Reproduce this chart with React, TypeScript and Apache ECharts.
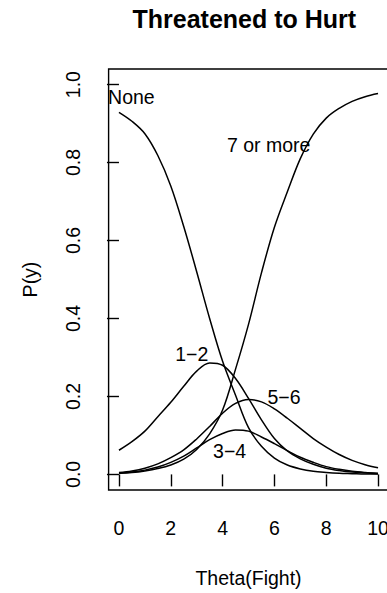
import { useEffect, useRef } from "react";
import * as echarts from "echarts";

// Category response curves for the item "Threatened to Hurt"
const theta = [0, 0.5, 1, 1.5, 2, 2.5, 3, 3.5, 4, 4.5, 5, 5.5, 6, 6.5, 7, 7.5, 8, 8.5, 9, 9.5, 10];

const pNone = [0.929, 0.906, 0.874, 0.818, 0.740, 0.636, 0.520, 0.400, 0.290, 0.203, 0.120, 0.072, 0.042, 0.024, 0.014, 0.008, 0.005, 0.003, 0.002, 0.001, 0.001];
const p1to2 = [0.062, 0.084, 0.111, 0.148, 0.185, 0.226, 0.265, 0.286, 0.280, 0.246, 0.195, 0.140, 0.092, 0.060, 0.040, 0.026, 0.016, 0.010, 0.006, 0.004, 0.002];
const p3to4 = [0.003, 0.006, 0.011, 0.019, 0.031, 0.047, 0.068, 0.089, 0.105, 0.114, 0.111, 0.096, 0.079, 0.061, 0.044, 0.031, 0.020, 0.013, 0.008, 0.005, 0.003];
const p5to6 = [0.005, 0.009, 0.016, 0.027, 0.043, 0.063, 0.091, 0.123, 0.157, 0.182, 0.192, 0.186, 0.168, 0.144, 0.118, 0.092, 0.070, 0.051, 0.036, 0.025, 0.017];
const p7plus = [0.003, 0.005, 0.009, 0.015, 0.024, 0.039, 0.064, 0.104, 0.165, 0.270, 0.385, 0.517, 0.634, 0.725, 0.810, 0.873, 0.914, 0.939, 0.957, 0.969, 0.977];

const curves = [pNone, p1to2, p3to4, p5to6, p7plus];

// Text labels placed next to each curve
const curveLabels = ["None", "1\u22122", "3\u22124", "5\u22126", "7 or more"];
const labelTheta = [0.48, 2.81, 4.27, 6.37, 5.78];
const labelP = [0.968, 0.31, 0.06, 0.199, 0.846];

const xTicks = [0, 2, 4, 6, 8, 10];
const yTicks = [0, 0.2, 0.4, 0.6, 0.8, 1.0];

const FONT = "'Liberation Sans', Arial, Helvetica, sans-serif";

export default function App() {
  const ref = useRef<HTMLDivElement>(null);

  useEffect(() => {
    if (!ref.current) return;
    const chart = echarts.init(ref.current, undefined, { renderer: "svg" });

    const lineSeries = curves.map((vals, i) => ({
      type: "line",
      name: curveLabels[i],
      data: theta.map((t, j) => [t, vals[j]]),
      smooth: 0.35,
      showSymbol: false,
      symbol: "none",
      lineStyle: { color: "#000", width: 1.5 },
      silent: true,
    }));

    const labelSeries = {
      type: "scatter",
      symbolSize: 1,
      itemStyle: { color: "transparent", opacity: 1 },
      silent: true,
      data: curveLabels.map((t, i) => ({
        value: [labelTheta[i], labelP[i]],
        label: { formatter: t },
      })),
      label: {
        show: true,
        position: "inside",
        color: "#000",
        opacity: 1,
        textBorderWidth: 0,
        fontSize: 19.5,
        fontFamily: FONT,
      },
    };

    chart.setOption({
      animation: false,
      backgroundColor: "#fff",
      title: {
        text: "Threatened to Hurt",
        left: 132.5,
        top: 6,
        padding: 0,
        textStyle: { fontFamily: FONT, fontSize: 25, fontWeight: "bold", color: "#000" },
      },
      grid: {
        left: 108.6,
        top: 69,
        width: 279.8,
        height: 421,
        outerBoundsMode: "none",
        containLabel: false,
        show: true,
        borderColor: "#000",
        borderWidth: 1.4,
        backgroundColor: "transparent",
      },
      xAxis: {
        type: "value",
        min: -0.4,
        max: 10.4,
        axisLine: { show: false },
        splitLine: { show: false },
        axisTick: {
          show: true,
          customValues: xTicks,
          length: 12,
          lineStyle: { color: "#000", width: 1.4 },
        },
        axisLabel: {
          customValues: xTicks,
          margin: 28,
          fontSize: 19.5,
          color: "#000",
          fontFamily: FONT,
        },
        name: "Theta(Fight)",
        nameLocation: "middle",
        nameGap: 78,
        nameTextStyle: { fontSize: 19.5, color: "#000", fontFamily: FONT },
      },
      yAxis: {
        type: "value",
        min: -0.04,
        max: 1.04,
        axisLine: { show: false },
        splitLine: { show: false },
        axisTick: {
          show: true,
          customValues: yTicks,
          length: 12,
          lineStyle: { color: "#000", width: 1.4 },
        },
        axisLabel: {
          customValues: yTicks,
          rotate: 90,
          margin: 26,
          fontSize: 19.5,
          color: "#000",
          fontFamily: FONT,
          formatter: (v: number) => v.toFixed(1),
        },
        name: "P(y)",
        nameLocation: "middle",
        nameRotate: 90,
        nameGap: 69,
        nameTextStyle: { fontSize: 19.5, color: "#000", fontFamily: FONT },
      },
      series: [...lineSeries, labelSeries],
    });

    return () => chart.dispose();
  }, []);

  return (
    <div
      ref={ref}
      style={{ position: "fixed", left: 0, top: 0, width: 387, height: 593, background: "#fff" }}
    />
  );
}
